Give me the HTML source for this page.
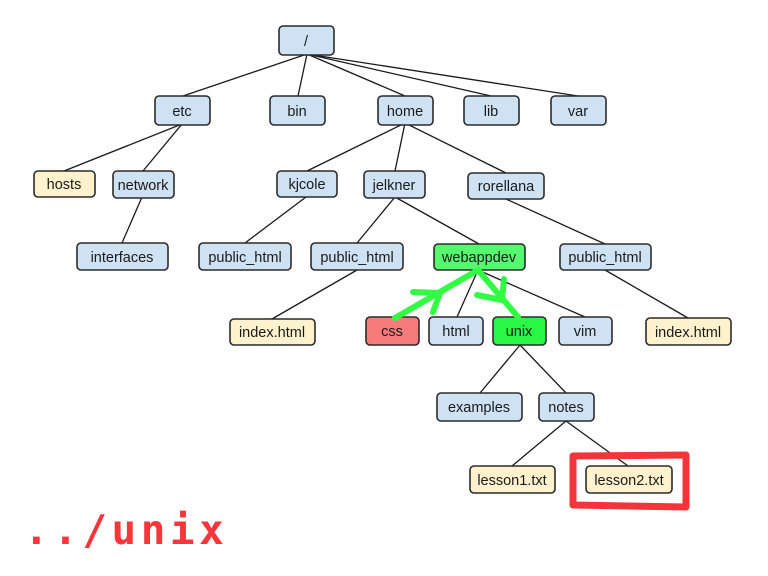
<!DOCTYPE html>
<html><head><meta charset="utf-8"><style>
html,body{margin:0;padding:0;background:#fff;}
svg{display:block;}
.b{stroke:#2b2b2b;stroke-width:1.6;}
.l{stroke:#1a1a1a;stroke-width:1.3;fill:none;}
text{font-family:"Liberation Sans",Arial,sans-serif;font-size:14.5px;fill:#1a1a1a;text-anchor:middle;}
</style></head><body>
<svg width="768" height="576" viewBox="0 0 768 576" xmlns="http://www.w3.org/2000/svg">
<g class="l">
<line x1="307" y1="54" x2="183" y2="96"/>
<line x1="307" y1="54" x2="298" y2="96"/>
<line x1="307" y1="54" x2="405" y2="96"/>
<line x1="307" y1="54" x2="491" y2="96"/>
<line x1="307" y1="54" x2="578" y2="96"/>
<line x1="182" y1="124" x2="64" y2="171"/>
<line x1="182" y1="124" x2="143" y2="171"/>
<line x1="142" y1="197" x2="122" y2="243"/>
<line x1="405" y1="123" x2="307" y2="171"/>
<line x1="405" y1="123" x2="395" y2="171"/>
<line x1="405" y1="123" x2="506" y2="173"/>
<line x1="306" y1="197" x2="245" y2="243"/>
<line x1="395" y1="197" x2="357" y2="243"/>
<line x1="395" y1="197" x2="479" y2="244"/>
<line x1="506" y1="199" x2="605" y2="244"/>
<line x1="357" y1="270" x2="272" y2="319"/>
<line x1="478" y1="270" x2="457" y2="317"/>
<line x1="478" y1="270" x2="585" y2="317"/>
<line x1="478" y1="270" x2="519" y2="317"/>
<line x1="605" y1="270" x2="688" y2="318"/>
<line x1="520" y1="345" x2="480" y2="393"/>
<line x1="520" y1="345" x2="566" y2="393"/>
<line x1="566" y1="421" x2="512" y2="466"/>
<line x1="566" y1="421" x2="628" y2="466"/>
</g>
<g class="b">
<rect x="279" y="26" width="55" height="29" rx="4" fill="#cfe2f3"/>
<rect x="155" y="96" width="55" height="29" rx="4" fill="#cfe2f3"/>
<rect x="270" y="96" width="55" height="29" rx="4" fill="#cfe2f3"/>
<rect x="378" y="96" width="55" height="29" rx="4" fill="#cfe2f3"/>
<rect x="464" y="96" width="55" height="29" rx="4" fill="#cfe2f3"/>
<rect x="551" y="96" width="55" height="29" rx="4" fill="#cfe2f3"/>
<rect x="34" y="171" width="61" height="26" rx="4" fill="#fff2cc"/>
<rect x="113" y="171" width="61" height="27" rx="4" fill="#cfe2f3"/>
<rect x="77" y="243" width="91" height="27" rx="4" fill="#cfe2f3"/>
<rect x="277" y="171" width="60" height="26" rx="4" fill="#cfe2f3"/>
<rect x="364" y="171" width="61" height="27" rx="4" fill="#cfe2f3"/>
<rect x="468" y="173" width="76" height="26" rx="4" fill="#cfe2f3"/>
<rect x="199" y="243" width="92" height="27" rx="4" fill="#cfe2f3"/>
<rect x="311" y="243" width="92" height="27" rx="4" fill="#cfe2f3"/>
<rect x="434" y="244" width="91" height="26" rx="4" fill="#55f86f"/>
<rect x="560" y="244" width="91" height="26" rx="4" fill="#cfe2f3"/>
<rect x="230" y="319" width="85" height="26" rx="4" fill="#fff2cc"/>
<rect x="366" y="317" width="53" height="28" rx="4" fill="#f77b7b"/>
<rect x="429" y="317" width="54" height="28" rx="4" fill="#cfe2f3"/>
<rect x="493" y="317" width="53" height="28" rx="4" fill="#2af645"/>
<rect x="559" y="317" width="53" height="28" rx="4" fill="#cfe2f3"/>
<rect x="646" y="318" width="85" height="27" rx="4" fill="#fff2cc"/>
<rect x="437" y="393" width="85" height="28" rx="4" fill="#cfe2f3"/>
<rect x="539" y="393" width="55" height="28" rx="4" fill="#cfe2f3"/>
<rect x="470" y="466" width="85" height="27" rx="4" fill="#fff2cc"/>
<rect x="586" y="466" width="86" height="27" rx="4" fill="#fff2cc"/>
</g>
<g>
<text x="306" y="46">/</text>
<text x="182" y="116">etc</text>
<text x="297" y="116">bin</text>
<text x="405" y="116">home</text>
<text x="491" y="116">lib</text>
<text x="578" y="116">var</text>
<text x="64" y="189">hosts</text>
<text x="143" y="190">network</text>
<text x="122" y="262">interfaces</text>
<text x="307" y="189">kjcole</text>
<text x="394" y="190">jelkner</text>
<text x="506" y="191">rorellana</text>
<text x="245" y="262">public_html</text>
<text x="357" y="262">public_html</text>
<text x="479" y="262">webappdev</text>
<text x="605" y="262">public_html</text>
<text x="272" y="337">index.html</text>
<text x="392" y="336">css</text>
<text x="456" y="336">html</text>
<text x="519" y="336">unix</text>
<text x="585" y="336">vim</text>
<text x="688" y="337">index.html</text>
<text x="479" y="412">examples</text>
<text x="566" y="412">notes</text>
<text x="512" y="485">lesson1.txt</text>
<text x="629" y="485">lesson2.txt</text>
</g>
<g stroke="#33fb44" stroke-width="6" fill="none" stroke-linecap="round" stroke-linejoin="round">
<path d="M395 318 L478 270 L518 317"/>
<path d="M413 292 L440 293 L433 312"/>
<path d="M477 295 L502 300 L504 279"/>
</g>
<path d="M573 456 L686 455 L686 507 L573 505 Z" fill="none" stroke="#f2353a" stroke-width="7" stroke-linejoin="round"/>
<text x="24" y="544" style="font-family:'DejaVu Sans Mono','Liberation Mono',monospace;font-size:41px;font-weight:bold;fill:#f5373b;text-anchor:start;letter-spacing:4.5px;">../unix</text>
</svg>
</body></html>
